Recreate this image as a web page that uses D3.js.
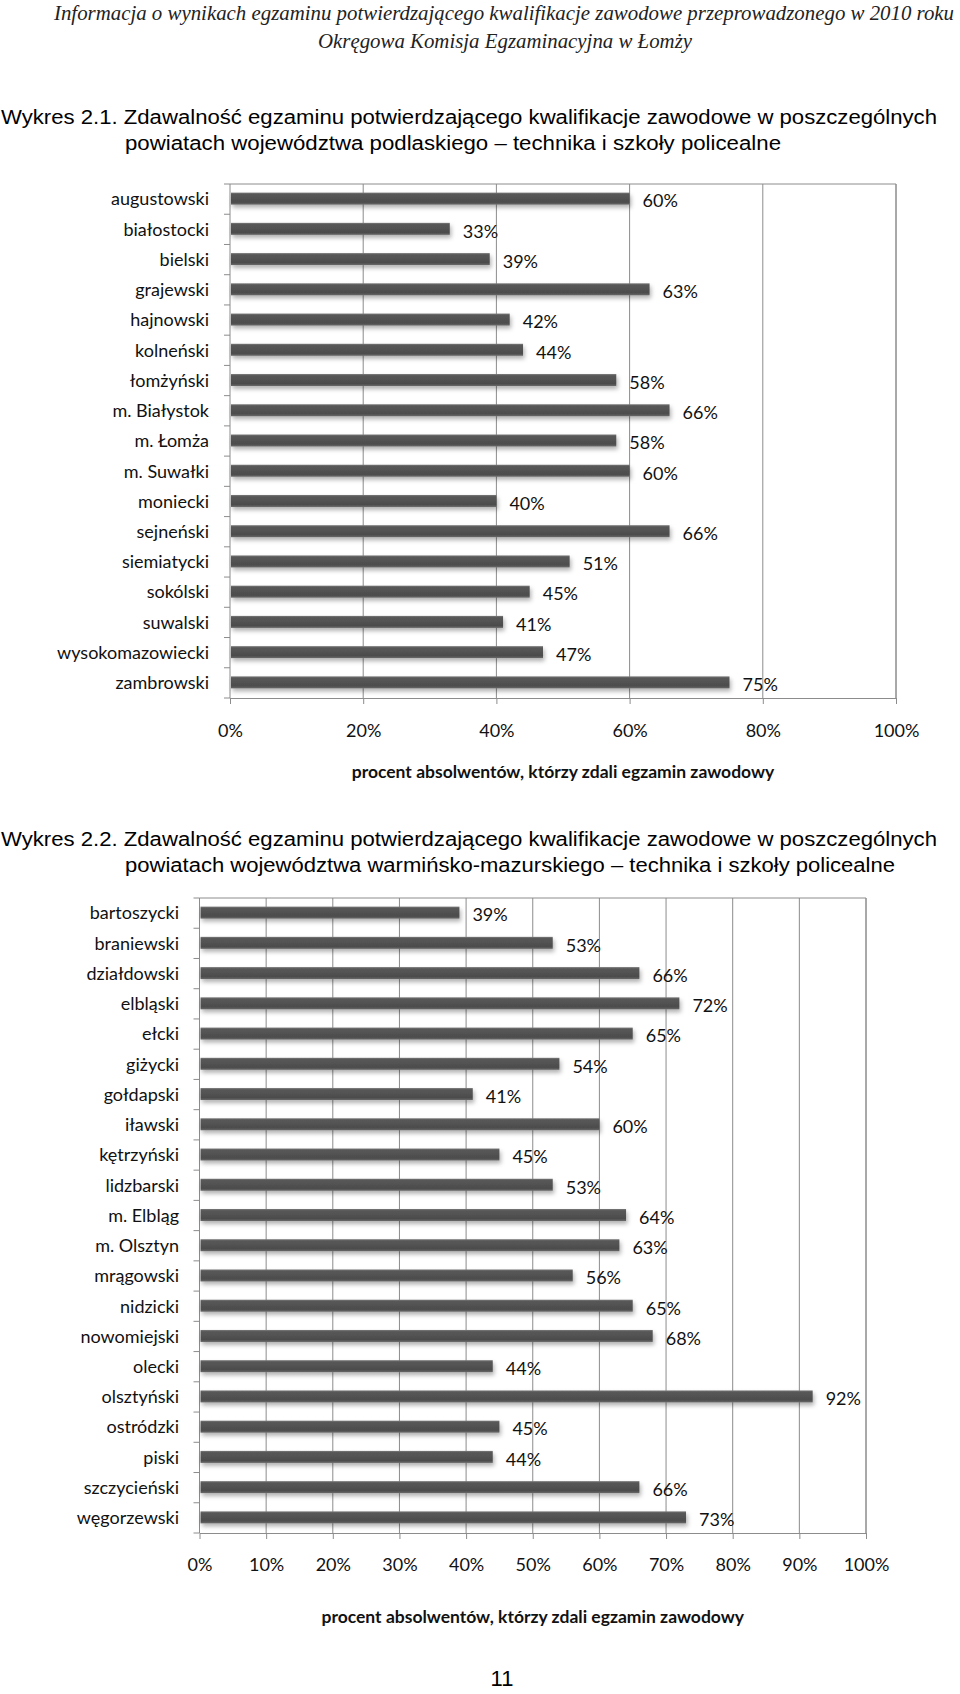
<!DOCTYPE html>
<html>
<head>
<meta charset="utf-8">
<script src="https://cdn.jsdelivr.net/npm/d3@7"></script>
<style>
  html, body { margin: 0; padding: 0; background: #fff; }
  svg { display: block; }
</style>
</head>
<body>
<div id="page"></div>
<script>
// podlaskie - powiaty
const cats1 = ["augustowski", "białostocki", "bielski", "grajewski", "hajnowski", "kolneński",
  "łomżyński", "m. Białystok", "m. Łomża", "m. Suwałki", "moniecki", "sejneński",
  "siemiatycki", "sokólski", "suwalski", "wysokomazowiecki", "zambrowski"];
const vals1 = [60, 33, 39, 63, 42, 44, 58, 66, 58, 60, 40, 66, 51, 45, 41, 47, 75];
const ticks1 = [0, 20, 40, 60, 80, 100];

// warmińsko-mazurskie - powiaty
const cats2 = ["bartoszycki", "braniewski", "działdowski", "elbląski", "ełcki", "giżycki",
  "gołdapski", "iławski", "kętrzyński", "lidzbarski", "m. Elbląg", "m. Olsztyn",
  "mrągowski", "nidzicki", "nowomiejski", "olecki", "olsztyński", "ostródzki",
  "piski", "szczycieński", "węgorzewski"];
const vals2 = [39, 53, 66, 72, 65, 54, 41, 60, 45, 53, 64, 63, 56, 65, 68, 44, 92, 45, 44, 66, 73];
const ticks2 = [0, 10, 20, 30, 40, 50, 60, 70, 80, 90, 100];

const axisTitle = "procent absolwentów, którzy zdali egzamin zawodowy";

const W = 960, H = 1694;
const svg = d3.select("#page").append("svg")
  .attr("width", W).attr("height", H)
  .attr("viewBox", [0, 0, W, H]);

// bar shading + shadow
const defs = svg.append("defs");
const grad = defs.append("linearGradient")
  .attr("id", "barGrad").attr("x1", 0).attr("y1", 0).attr("x2", 0).attr("y2", 1);
grad.append("stop").attr("offset", "0%").attr("stop-color", "#7a7a7a");
grad.append("stop").attr("offset", "14%").attr("stop-color", "#585858");
grad.append("stop").attr("offset", "80%").attr("stop-color", "#4c4c4c");
grad.append("stop").attr("offset", "100%").attr("stop-color", "#6a6a6a");
const shadow = defs.append("filter").attr("id", "barShadow")
  .attr("x", "-5%").attr("y", "-50%").attr("width", "115%").attr("height", "250%");
shadow.append("feDropShadow")
  .attr("dx", 1.5).attr("dy", 3).attr("stdDeviation", 2)
  .attr("flood-color", "#000").attr("flood-opacity", 0.3);

// page header
svg.append("text")
  .attr("x", 54).attr("y", 20)
  .attr("textLength", 900).attr("lengthAdjust", "spacingAndGlyphs")
  .attr("font-family", "Liberation Serif").attr("font-style", "italic")
  .attr("font-size", 21).attr("fill", "#222")
  .text("Informacja o wynikach egzaminu potwierdzającego kwalifikacje zawodowe przeprowadzonego w 2010 roku");
svg.append("text")
  .attr("x", 505).attr("y", 48).attr("text-anchor", "middle")
  .attr("textLength", 374).attr("lengthAdjust", "spacingAndGlyphs")
  .attr("font-family", "Liberation Serif").attr("font-style", "italic")
  .attr("font-size", 21).attr("fill", "#222")
  .text("Okręgowa Komisja Egzaminacyjna w Łomży");

function heading(y, line1, line2) {
  const g = svg.append("g")
    .attr("font-family", "Liberation Sans")
    .attr("font-size", 19.5).attr("fill", "#000");
  g.append("text").attr("x", 1).attr("y", y)
    .attr("textLength", 936).attr("lengthAdjust", "spacingAndGlyphs")
    .text(line1);
  g.append("text").attr("x", 125).attr("y", y + 26)
    .attr("textLength", line2.len).attr("lengthAdjust", "spacingAndGlyphs")
    .text(line2.text);
}

function barChart(cfg) {
  const x = d3.scaleLinear([0, 100], [cfg.left, cfg.right]);
  const y = d3.scaleBand(cfg.cats, [cfg.top, cfg.bottom]).paddingInner(0).paddingOuter(0);
  const g = svg.append("g");
  const gridColor = "#8c8c8c";
  const fs = 18;

  // plot frame (top + right)
  g.append("path")
    .attr("d", `M${cfg.left},${cfg.top}H${cfg.right}V${cfg.bottom}`)
    .attr("fill", "none").attr("stroke", gridColor).attr("stroke-width", 1);

  // vertical grid
  g.append("g").selectAll("line").data(cfg.ticks.slice(1)).join("line")
    .attr("x1", d => x(d)).attr("x2", d => x(d))
    .attr("y1", cfg.top).attr("y2", cfg.bottom)
    .attr("stroke", gridColor).attr("stroke-width", 1);

  // bottom axis
  const xAxis = g.append("g")
    .attr("transform", `translate(0,${cfg.bottom})`)
    .call(d3.axisBottom(x).tickValues(cfg.ticks).tickSize(6).tickSizeOuter(0)
      .tickFormat(d => d + "%"));
  xAxis.select(".domain").attr("stroke", gridColor);
  xAxis.selectAll(".tick line").attr("stroke", gridColor);
  xAxis.selectAll(".tick text")
    .attr("font-family", "Lato").attr("font-size", fs).attr("fill", "#111")
    .attr("y", cfg.tickLabelDy).attr("dy", "0.35em");

  // left axis: ticks at band edges
  const edges = cfg.cats.map(c => y(c)).concat([cfg.bottom]);
  g.append("line")
    .attr("x1", cfg.left).attr("x2", cfg.left)
    .attr("y1", cfg.top).attr("y2", cfg.bottom)
    .attr("stroke", gridColor);
  g.append("g").selectAll("line").data(edges).join("line")
    .attr("x1", cfg.left - 6).attr("x2", cfg.left)
    .attr("y1", d => d).attr("y2", d => d)
    .attr("stroke", gridColor);

  // category labels
  g.append("g").selectAll("text").data(cfg.cats).join("text")
    .attr("x", cfg.labelRight)
    .attr("y", d => y(d) + y.bandwidth() / 2)
    .attr("dy", "0.35em").attr("text-anchor", "end")
    .attr("font-family", "Lato").attr("font-size", fs).attr("fill", "#111")
    .text(d => d);

  // bars
  const barH = 12;
  g.append("g").selectAll("rect").data(cfg.vals).join("rect")
    .attr("x", cfg.left + 1)
    .attr("y", (d, i) => y(cfg.cats[i]) + y.bandwidth() / 2 - barH / 2 - 0.5)
    .attr("width", d => x(d) - cfg.left - 1)
    .attr("height", barH)
    .attr("fill", "url(#barGrad)")
    .attr("filter", "url(#barShadow)");

  // value labels
  g.append("g").selectAll("text").data(cfg.vals).join("text")
    .attr("x", d => x(d) + 13)
    .attr("y", (d, i) => y(cfg.cats[i]) + y.bandwidth() / 2 + 2)
    .attr("dy", "0.35em")
    .attr("font-family", "Lato").attr("font-size", fs).attr("fill", "#111")
    .text(d => d + "%");

  // axis title
  g.append("text")
    .attr("x", (cfg.left + cfg.right) / 2).attr("y", cfg.titleY)
    .attr("dy", "0.35em").attr("text-anchor", "middle")
    .attr("font-family", "Lato").attr("font-weight", "bold")
    .attr("font-size", 17.5).attr("fill", "#111")
    .text(axisTitle);
}

heading(124, "Wykres 2.1. Zdawalność egzaminu potwierdzającego kwalifikacje zawodowe w poszczególnych",
  { text: "powiatach województwa podlaskiego – technika i szkoły policealne", len: 656 });

barChart({
  cats: cats1, vals: vals1, ticks: ticks1,
  left: 230, right: 896, top: 184, bottom: 698,
  labelRight: 209, tickLabelDy: 33, titleY: 772
});

heading(846, "Wykres 2.2. Zdawalność egzaminu potwierdzającego kwalifikacje zawodowe w poszczególnych",
  { text: "powiatach województwa warmińsko-mazurskiego – technika i szkoły policealne", len: 770 });

barChart({
  cats: cats2, vals: vals2, ticks: ticks2,
  left: 199.5, right: 866, top: 898, bottom: 1533,
  labelRight: 179, tickLabelDy: 32, titleY: 1617
});

// page number
svg.append("text")
  .attr("x", 502).attr("y", 1686).attr("text-anchor", "middle")
  .attr("font-family", "Liberation Sans").attr("font-size", 22).attr("fill", "#000")
  .text("11");
</script>
</body>
</html>
